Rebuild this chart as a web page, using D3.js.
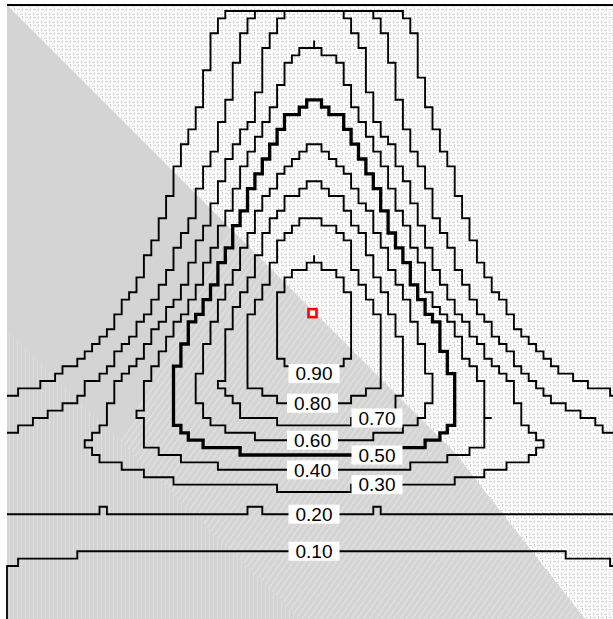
<!DOCTYPE html>
<html><head><meta charset="utf-8">
<script src="https://cdn.jsdelivr.net/npm/d3@7"></script>
<style>html,body{margin:0;padding:0;background:#fff}svg{display:block}</style>
</head><body>
<svg id="c" width="613" height="619"></svg>
<script>
// contour levels and labels
const levels = [0.1, 0.2, 0.3, 0.4, 0.5, 0.6, 0.7, 0.8, 0.9];
const boldLevel = 0.5;
// label anchor column (grid units) for each level
const labelCol = [11.5, 11.5, 13.6, 11.45, 13.6, 11.45, 13.6, 11.45, 11.5];
// peak marker in grid units
const peak = [11.45, 10.07];

// value grid (21 rows x 23 columns)
const r01 = [.01,.01,.01,.01,.02,.02,.03,.05,.12,.23,.33,.37,.33,.23,.12,.05,.03,.02,.02,.01,.01,.01,.01];
const r02 = [.01,.01,.01,.01,.02,.02,.03,.05,.15,.26,.385,.42,.385,.26,.15,.05,.03,.02,.02,.01,.01,.01,.01];
const r03 = [.01,.01,.01,.01,.02,.02,.03,.06,.17,.27,.42,.47,.42,.27,.17,.06,.03,.02,.02,.01,.01,.01,.01];
const r04 = [.01,.01,.01,.01,.02,.02,.04,.09,.20,.30,.49,.54,.49,.30,.20,.09,.04,.02,.02,.01,.01,.01,.01];
const r05 = [.01,.01,.01,.01,.02,.03,.05,.12,.23,.41,.55,.61,.55,.41,.23,.12,.05,.03,.02,.01,.01,.01,.01];
const r06 = [.01,.01,.01,.01,.02,.04,.07,.16,.30,.48,.62,.69,.62,.48,.30,.16,.07,.04,.02,.01,.01,.01,.01];
const r07 = [.01,.01,.01,.01,.02,.04,.09,.19,.36,.56,.71,.77,.71,.56,.36,.19,.09,.04,.02,.01,.01,.01,.01];
const r08 = [.01,.01,.01,.02,.03,.05,.12,.25,.44,.63,.81,.86,.81,.63,.44,.25,.12,.05,.03,.02,.01,.01,.01];
const r09 = [.01,.01,.01,.02,.03,.06,.17,.31,.53,.69,.86,.92,.86,.69,.53,.31,.17,.06,.03,.02,.01,.01,.01];
const r10 = [.01,.01,.02,.03,.05,.11,.22,.38,.60,.77,.93,.95,.93,.77,.60,.38,.22,.11,.05,.03,.02,.01,.01];
const r11 = [.01,.01,.02,.04,.07,.18,.32,.52,.66,.84,.93,.95,.93,.84,.66,.52,.32,.18,.07,.04,.02,.01,.01];
const r12 = [.02,.02,.04,.07,.15,.27,.41,.56,.70,.84,.92,.93,.92,.84,.70,.56,.41,.27,.15,.07,.04,.02,.02];
const r13 = [.06,.08,.11,.16,.25,.37,.47,.59,.71,.81,.86,.88,.86,.81,.71,.59,.47,.37,.25,.16,.11,.08,.06];
const r14 = [.13,.16,.20,.24,.29,.38,.48,.58,.66,.72,.74,.75,.74,.72,.66,.58,.48,.38,.29,.24,.20,.16,.13];
const r15 = [.22,.23,.25,.28,.33,.38,.44,.48,.52,.55,.56,.56,.56,.55,.52,.48,.44,.38,.33,.28,.25,.23,.22];
const r16 = [.25,.25,.25,.26,.27,.28,.31,.34,.35,.36,.36,.36,.36,.36,.35,.34,.31,.28,.27,.26,.25,.25,.25];
const r17 = [.21,.215,.22,.215,.21,.215,.22,.215,.215,.21,.215,.22,.215,.21,.215,.22,.215,.21,.215,.215,.22,.215,.21];
const r18 = [.14,.14,.135,.145,.14,.135,.14,.145,.14,.14,.135,.14,.145,.14,.14,.135,.14,.145,.14,.135,.14,.14,.14];
const r19 = [.095,.095,.085,.075,.07,.07,.07,.07,.07,.07,.07,.07,.07,.07,.07,.07,.07,.07,.07,.075,.085,.095,.095];
const r20 = [.03,.03,.03,.03,.03,.03,.03,.03,.03,.03,.03,.03,.03,.03,.03,.03,.03,.03,.03,.03,.03,.03,.03];
const r21 = [.02,.02,.02,.02,.02,.02,.02,.02,.02,.02,.02,.02,.02,.02,.02,.02,.02,.02,.02,.02,.02,.02,.02];
const rows = [r01,r02,r03,r04,r05,r06,r07,r08,r09,r10,r11,r12,r13,r14,r15,r16,r17,r18,r19,r20,r21];

const nx = r01.length, ny = rows.length;
const values = [].concat(...rows);

const W = 613, H = 619;
const plot = {l: 7, t: 5, r: 613, b: 619};
const x = d3.scaleLinear().domain([0, nx]).range([-31, 659]);
const y = d3.scaleLinear().domain([0, ny]).range([11, 641]);

const svg = d3.select('#c');
const defs = svg.append('defs');
const pat = defs.append('pattern').attr('id', 'tex').attr('patternUnits', 'userSpaceOnUse')
  .attr('width', 8).attr('height', 8);
pat.append('rect').attr('width', 8).attr('height', 8).attr('fill', '#fff');
[[1,1,3,1],[6,0,1,3],[1,4,1,3],[4,6,3,1],[4,3,1,1]].forEach(d =>
  pat.append('rect').attr('x', d[0]).attr('y', d[1]).attr('width', d[2]).attr('height', d[3]).attr('fill', '#d2d2d2'));
const pat2 = defs.append('pattern').attr('id', 'tex2').attr('patternUnits', 'userSpaceOnUse')
  .attr('width', 4).attr('height', 4);
pat2.append('rect').attr('width', 4).attr('height', 4).attr('fill', '#d3d3d3');
pat2.append('rect').attr('x', 1).attr('width', 1).attr('height', 4).attr('fill', '#e4e4e4');
const pat3 = defs.append('pattern').attr('id', 'tex3').attr('patternUnits', 'userSpaceOnUse')
  .attr('width', 5).attr('height', 5).attr('patternTransform', 'rotate(35)');
pat3.append('rect').attr('width', 5).attr('height', 5).attr('fill', '#d4d4d4');
pat3.append('rect').attr('x', 2).attr('width', 1.2).attr('height', 5).attr('fill', '#e6e6e6');
defs.append('clipPath').attr('id', 'clip').append('rect')
  .attr('x', plot.l).attr('y', plot.t).attr('width', plot.r - plot.l).attr('height', plot.b - plot.t);

svg.append('rect').attr('width', W).attr('height', H).attr('fill', '#fff');
svg.append('rect').attr('x', plot.l).attr('y', plot.t).attr('width', plot.r - plot.l).attr('height', plot.b - plot.t)
  .attr('fill', 'url(#tex)');
svg.append('path').attr('d', `M${plot.l},${plot.t}L455,453L585,${plot.b}L${plot.l},${plot.b}Z`)
  .attr('fill', '#d4d4d4');
svg.append('path').attr('d', `M230,228L455,453L585,${plot.b}L300,${plot.b}L120,441Z`)
  .attr('fill', 'url(#tex3)').attr('opacity', 0.8);
svg.append('path').attr('d', `M${plot.l},330L300,619L${plot.l},${plot.b}Z`)
  .attr('fill', 'url(#tex2)').attr('opacity', 0.6);

// contours
const contours = d3.contours().size([nx, ny]).smooth(true).thresholds(levels)(values);

const S = 7.4, OX = 10.7, OY = 11;
function stair(ring) {
  const P = ring.map(p => [x(p[0]), y(p[1])]);
  const cells = [];
  for (let i = 0; i < P.length - 1; i++) {
    const [x0, y0] = P[i], [x1, y1] = P[i + 1];
    const n = Math.max(1, Math.ceil(Math.hypot(x1 - x0, y1 - y0)));
    for (let t = 0; t < n; t++) {
      const px = x0 + (x1 - x0) * t / n, py = y0 + (y1 - y0) * t / n;
      cells.push([Math.round((px - OX) / S), Math.round((py - OY) / S)]);
    }
  }
  const out = [];
  for (const c of cells) {
    const q = out[out.length - 1];
    if (!q) { out.push(c); continue; }
    if (q[0] === c[0] && q[1] === c[1]) continue;
    if (q[0] !== c[0] && q[1] !== c[1]) out.push([c[0], q[1]]);
    out.push(c);
  }
  return out.map(([i, j]) => [OX + i * S, OY + j * S]);
}

const g = svg.append('g').attr('clip-path', 'url(#clip)');
const stairs = {};
contours.forEach(c => {
  stairs[c.value] = [];
  c.coordinates.forEach(poly => poly.forEach(ring => {
    const pts = stair(ring);
    stairs[c.value].push(pts);
    g.append('path')
      .attr('d', 'M' + pts.map(p => p.join(',')).join('L') + 'Z')
      .attr('fill', 'none').attr('stroke', '#000')
      .attr('stroke-width', c.value === boldLevel ? 3.3 : 1.9)
      .attr('stroke-linejoin', 'miter');
  }));
});

// frame lines
svg.append('line').attr('x1', plot.l).attr('x2', plot.r).attr('y1', 5).attr('y2', 5)
  .attr('stroke', '#000').attr('stroke-width', 1.8);
svg.append('line').attr('x1', plot.l).attr('x2', plot.l).attr('y1', 565).attr('y2', plot.b)
  .attr('stroke', '#000').attr('stroke-width', 1.8);

// labels
function labelY(rings, tx) {
  let best = -Infinity;
  rings.forEach(pts => {
    for (let i = 0; i < pts.length; i++) {
      const a = pts[i], b = pts[(i + 1) % pts.length];
      if (Math.abs(a[1] - b[1]) < 0.01 && Math.min(a[0], b[0]) <= tx && Math.max(a[0], b[0]) >= tx && a[1] > 30)
        best = Math.max(best, a[1]);
    }
  });
  return best;
}
const fmt = d3.format('.2f');
const lg = svg.append('g');
levels.forEach((lv, k) => {
  const tx = x(labelCol[k]);
  let ly = labelY(stairs[lv] || [], tx);
  if (!isFinite(ly)) ly = labelY(stairs[lv] || [], tx + 4);
  if (!isFinite(ly)) return;
  const grp = lg.append('g');
  const rect = grp.append('rect').attr('fill', '#fff');
  const t = grp.append('text').attr('x', tx).attr('y', ly).attr('dy', '0.36em')
    .attr('text-anchor', 'middle').attr('font-family', 'Liberation Sans, Arial, sans-serif')
    .style('font-size', '19px').attr('fill', '#000').text(fmt(lv));
  const w = t.node().getComputedTextLength();
  rect.attr('x', tx - w / 2 - 7).attr('width', w + 14).attr('y', ly - 9.5).attr('height', 19);
});

// peak marker
svg.append('rect').attr('x', x(peak[0]) - 4).attr('y', y(peak[1]) - 4).attr('width', 8).attr('height', 8)
  .attr('fill', '#fff').attr('stroke', '#ff0000').attr('stroke-width', 2.6);
</script>
</body></html>
